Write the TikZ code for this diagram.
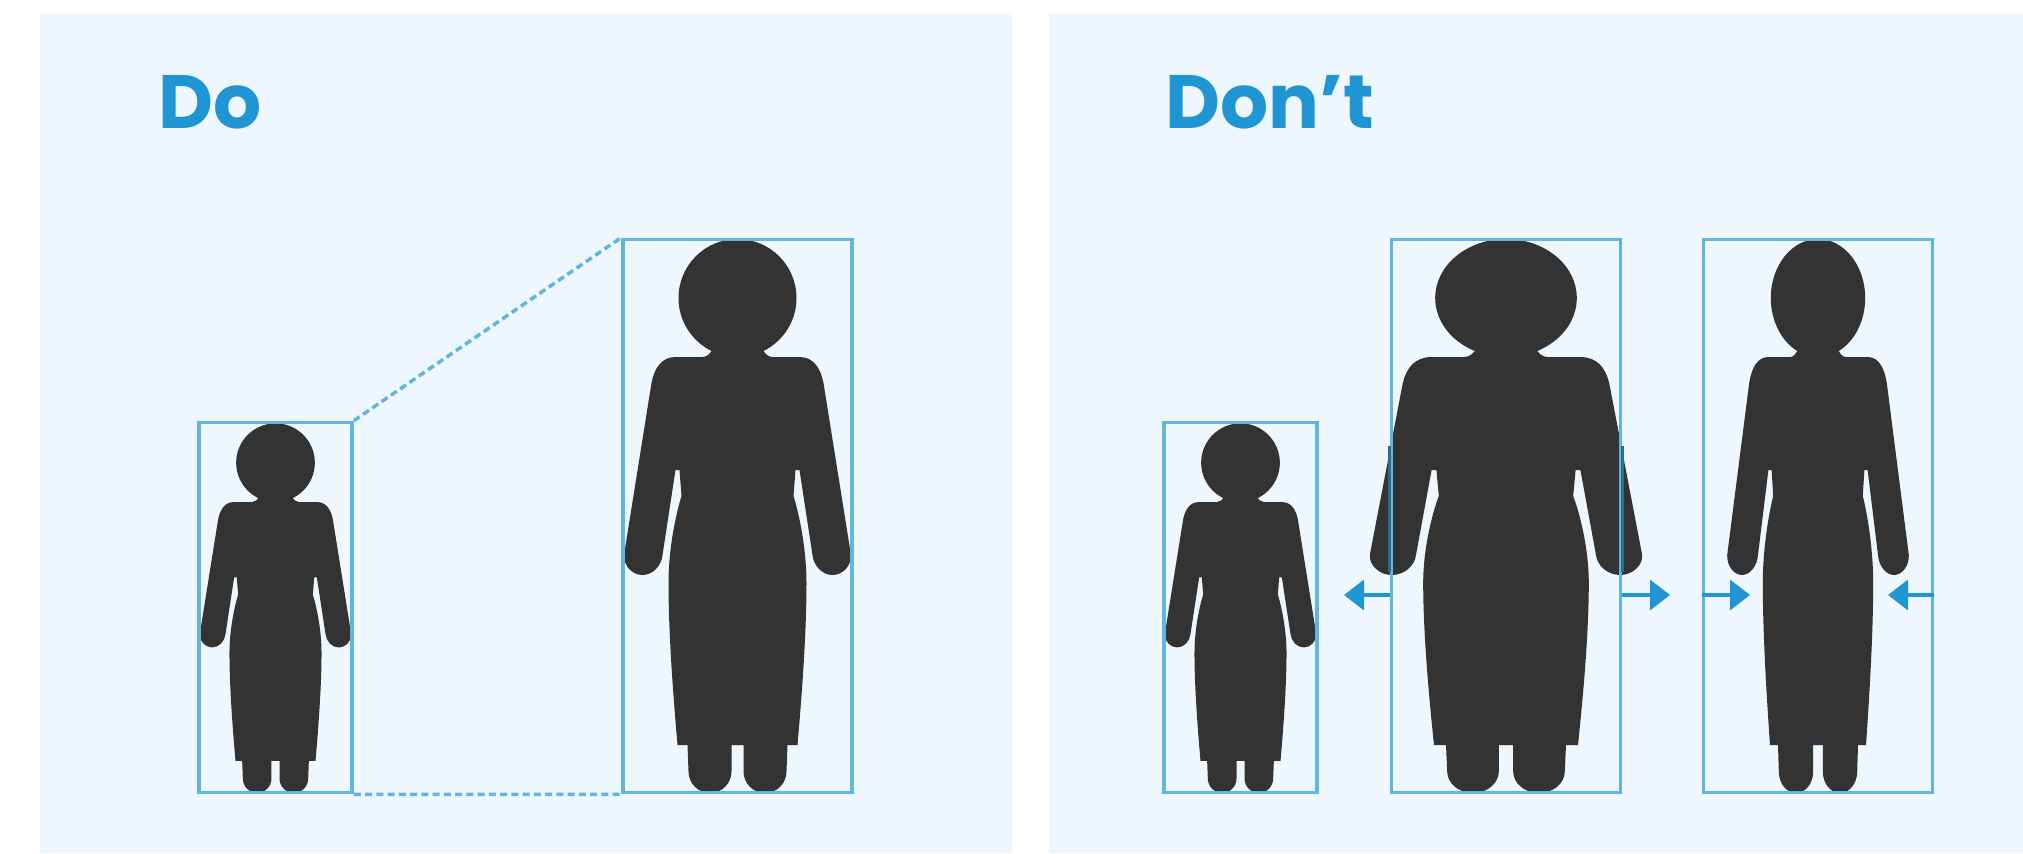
\documentclass[tikz,border=0pt]{standalone}
\usepackage{fontspec}
\setmainfont{Poppins}
\usepackage{xcolor}
\usetikzlibrary{calc,arrows.meta}
\definecolor{panelbg}{HTML}{EDF7FD}
\definecolor{headblue}{HTML}{1F96D3}
\definecolor{boxblue}{HTML}{62B6DE}
\definecolor{boxdark}{HTML}{2A6C8C}
\definecolor{figdark}{HTML}{333333}

\begin{document}
\begin{tikzpicture}[
  x=0.01cm, y=-0.01cm,
  panel/.style={fill=panelbg, draw=none},
  heading/.style={anchor=base west, inner sep=0pt, font=\fontsize{21.5}{21.5}\selectfont\bfseries, text=headblue},
  figbox/.style={draw=boxblue, line width=1pt, inner sep=0pt, minimum height=5.53cm},
  guide/.style={draw=boxblue, line width=1pt, dash pattern=on 2pt off 1.2pt},
  push/.style={draw=headblue, line width=1pt, -{Triangle[length=2mm,width=3mm]}},
  person/.pic={
    \fill[figdark] (0,58) ellipse [x radius=59, y radius=59];
    \foreach \s in {1,-1}
      \fill[figdark, xscale=\s] (-1,100) -- (24,108)
        .. controls (27,113) and (30,117) .. (35,117) -- (62,117)
        .. controls (76,117) and (83,128) .. (86,143) -- (113.5,315)
        .. controls (114,326) and (105,335) .. (95,335)
        .. controls (85,335) and (76,326) .. (75,315) -- (62,230) -- (58,230) -- (56,256)
        .. controls (62,275) and (69,310) .. (69,343)
        .. controls (69,400) and (63,470) .. (60,505) -- (50,505) -- (49,531.5)
        .. controls (49,543.4) and (39.4,553) .. (27.5,553)
        .. controls (15.6,553) and (6,543.4) .. (6,531.5) -- (6,505) -- (-1,505) -- cycle;
  }
]
\useasboundingbox (0,0) rectangle (2023,853);

% Panels
\fill[panel] (40,13) rectangle (1012,853);
\fill[panel] (1049,13) rectangle (2023,853);

% Headings
\node[heading] (doTitle) at (158,128) {Do};
\node[heading] (dontTitle) at (1165,128) {Don’t};

% Figures
\pic[scale=0.667] at (275.5,424) {person};
\pic at (737.5,240) {person};
\pic[scale=0.667] at (1240.5,424) {person};
\pic[xscale=1.2] at (1506,240) {person};
\pic[xscale=0.8] at (1818,240) {person};

% Boxes
\node[figbox, minimum width=1.53cm, minimum height=3.7cm] (doSmall) at (275.5,607.5) {};
\node[figbox, minimum width=2.29cm, minimum height=5.53cm] (doBig) at (737.5,516) {};
\node[figbox, minimum width=1.53cm, minimum height=3.7cm] (dontSmall) at (1240.5,607.5) {};
\node[figbox, minimum width=2.29cm] (dontWide) at (1506,516) {};
\node[figbox, minimum width=2.29cm] (dontNarrow) at (1818,516) {};

% Where the wide figure's arms cross its box
\draw[draw=boxdark, line width=1pt] (dontWide.west |- 0,446) -- (dontWide.west |- 0,572);
\draw[draw=boxdark, line width=1pt] (dontWide.east |- 0,446) -- (dontWide.east |- 0,572);

% Scaling guides
\draw[guide] (doSmall.north east) -- (doBig.north west);
\draw[guide] (doSmall.south east) -- (doBig.south west);

% Stretch and squeeze arrows
\coordinate (wideL) at (1344,595);
\coordinate (wideR) at (1670,595);
\coordinate (narrowL) at (1750,595);
\coordinate (narrowR) at (1888,595);
\draw[push] (dontWide.west |- wideL) -- (wideL);
\draw[push] (dontWide.east |- wideR) -- (wideR);
\draw[push] (dontNarrow.west |- narrowL) -- (narrowL);
\draw[push] (dontNarrow.east |- narrowR) -- (narrowR);
\end{tikzpicture}
\end{document}
